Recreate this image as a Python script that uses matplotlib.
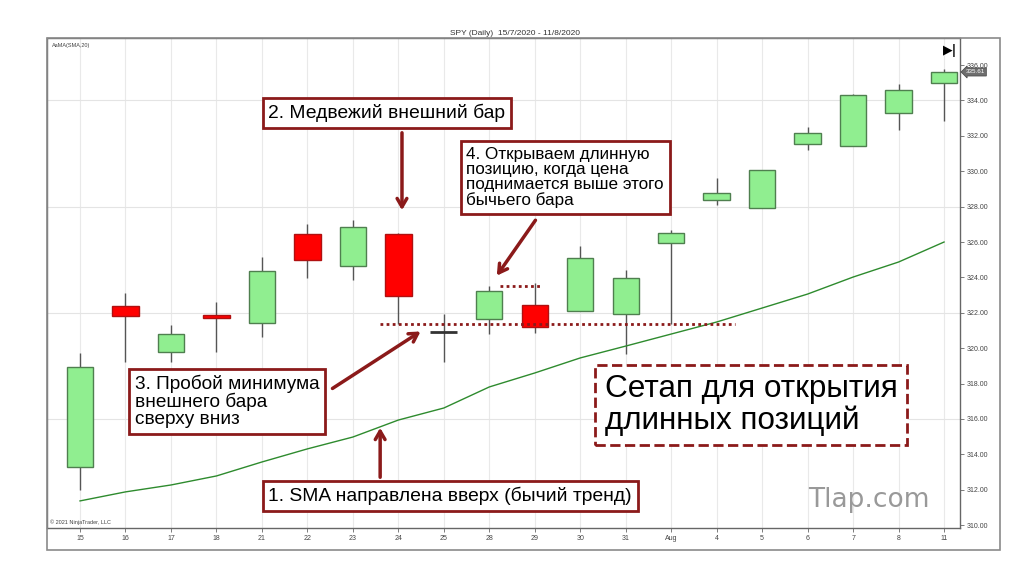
import numpy as np
import matplotlib.pyplot as plt
from matplotlib.patches import Rectangle

# daily SPY candles
days = ['15', '16', '17', '18', '21', '22', '23', '24', '25', '28',
        '29', '30', '31', 'Aug', '4', '5', '6', '7', '8', '11']
opens = [313.29, 322.40, 319.79, 321.89, 321.41, 326.45, 324.64, 326.45, 320.95, 321.65,
         322.44, 322.10, 321.93, 325.94, 328.37, 327.92, 331.54, 331.42, 333.29, 335.01]
closes = [318.94, 321.84, 320.80, 321.72, 324.36, 325.00, 326.85, 322.95, 320.92, 323.23,
          321.20, 325.10, 323.97, 326.51, 328.77, 330.07, 332.16, 334.30, 334.59, 335.61]
highs = [319.73, 323.10, 321.31, 322.63, 325.14, 327.02, 327.24, 326.50, 321.93, 323.51,
         323.68, 325.77, 324.42, 326.68, 329.62, 330.07, 332.50, 334.36, 334.93, 335.77]
lows = [312.00, 319.20, 319.20, 319.79, 320.65, 323.95, 323.85, 321.37, 319.22, 320.80,
        320.86, 322.10, 319.67, 321.37, 328.09, 327.92, 331.20, 331.42, 332.33, 332.84]
sma20 = [311.37, 311.88, 312.27, 312.78, 313.57, 314.31, 314.98, 315.94, 316.62, 317.81,
         318.60, 319.45, 320.12, 320.80, 321.48, 322.27, 323.06, 324.02, 324.87, 326.00]
price_ticks = np.arange(310, 337, 2)

RED = '#8b1a1a'

fig = plt.figure(figsize=(10.33, 5.79), dpi=100)
plt.rcParams['font.family'] = ['Liberation Sans', 'DejaVu Sans']

# outer frame of the chart panel
fig.patches.append(Rectangle((0.0455, 0.050), 0.9226, 0.884, transform=fig.transFigure,
                             fill=False, ec='#8a8a8a', lw=1.2))

ax = fig.add_axes([0.0455, 0.0881, 0.8838, 0.8463])
x = np.arange(len(days))

for i in x:
    up = closes[i] >= opens[i]
    lo, hi = min(opens[i], closes[i]), max(opens[i], closes[i])
    ax.vlines(i, lows[i], highs[i], color='#555555', lw=1, zorder=2)
    if hi - lo < 0.1:
        ax.hlines(closes[i], i - 0.3, i + 0.3, color='#333333' if i == 8 else '#b01010', lw=2, zorder=3)
        continue
    ax.bar(i, hi - lo, bottom=lo, width=0.58,
           color='#90ee90' if up else '#ff0000',
           edgecolor='#4f7f4f' if up else '#b01010', lw=1, zorder=3)

ax.plot(x, sma20, color='#2e8b2e', lw=1, zorder=2)

# dotted levels
ax.hlines(lows[7], 6.6, 14.4, color=RED, lw=2, linestyles=(0, (1, 1.2)), zorder=4)
ax.hlines(highs[9], 9.24, 10.14, color=RED, lw=2, linestyles=(0, (1, 1.2)), zorder=4)

ax.set_xlim(-0.726, 19.35)
ax.set_ylim(309.84, 337.53)
ax.set_xticks(x)
ax.set_xticklabels(days, fontsize=5, color='#444444')
ax.set_yticks(price_ticks)
ax.set_yticklabels([f'{v:.2f}' for v in price_ticks], fontsize=5, color='#444444')
ax.yaxis.tick_right()
ax.tick_params(axis='both', length=3, width=0.6, color='#666666', pad=2)
for s in ax.spines.values():
    s.set_color('#666666')
    s.set_linewidth(1)
ax.set_axisbelow(True)
for i in x:
    ax.axvline(i, color='#e9e9e9', lw=0.8, zorder=0)
for v in [316, 322, 328, 334]:
    ax.axhline(v, color='#e4e4e4', lw=0.8, zorder=0)

fig.text(0.4985, 0.943, 'SPY (Daily)  15/7/2020 - 11/8/2020', ha='center', va='center',
         fontsize=6, color='#333333')
ax.text(0.005, 0.984, 'AaMA(SMA,20)', transform=ax.transAxes, fontsize=4, color='#444444',
        va='center')
ax.text(0.003, 0.012, '© 2021 NinjaTrader, LLC', transform=ax.transAxes, fontsize=4,
        color='#444444', va='center')
ax.text(19.13, 336.85, '▶|', fontsize=9, fontweight='bold', ha='center', va='center',
        family='DejaVu Sans')
ax.annotate(f'{closes[-1]:.2f}', xy=(1.0, closes[-1]), xycoords=('axes fraction', 'data'),
            xytext=(4, 0), textcoords='offset points', fontsize=4.5, color='white',
            va='center', ha='left',
            bbox=dict(boxstyle='larrow,pad=0.25', fc='#6e6e6e', ec='#444444', lw=0.5),
            annotation_clip=False)

box = dict(boxstyle='square,pad=0.3', fc='white', ec=RED, lw=2)
ax.text(6.75, 333.29, '2. Медвежий внешний бар', fontsize=13.9, ha='center', va='center',
        bbox=box, zorder=6)
ax.text(10.67, 329.64, '4. Открываем длинную\nпозицию, когда цена\nподнимается выше этого\nбычьего бара',
        fontsize=12.3, ha='center', va='center', multialignment='left', linespacing=1.02,
        bbox=dict(boxstyle='square,pad=0.35', fc='white', ec=RED, lw=2), zorder=6)
ax.text(3.24, 316.99, '3. Пробой минимума\nвнешнего бара\nсверху вниз', fontsize=13.7,
        ha='center', va='center', multialignment='left', linespacing=0.98,
        bbox=box, zorder=6)
ax.text(8.14, 311.65, '1. SMA направлена вверх (бычий тренд)', fontsize=13.9, ha='center',
        va='center', bbox=box, zorder=6)
ax.text(14.76, 316.79, 'Сетап для открытия\nдлинных позиций', fontsize=22.7, ha='center',
        va='center', multialignment='left', linespacing=1.05, zorder=6,
        bbox=dict(boxstyle='square,pad=0.3', fc='white', ec=RED, lw=2, ls='--'))
ax.text(17.35, 311.42, 'Tlap.com', fontsize=19, color='#999999', ha='center', va='center',
        family='DejaVu Sans', zorder=6)

arrow = dict(arrowstyle='->,head_length=0.6,head_width=0.35', color=RED, lw=2.5)
ax.annotate('', xy=(7.08, 327.64), xytext=(7.08, 332.33), arrowprops=arrow, zorder=5)
ax.annotate('', xy=(9.13, 323.97), xytext=(10.05, 327.36), arrowprops=arrow, zorder=5)
ax.annotate('', xy=(7.54, 321.03), xytext=(5.5, 317.64), arrowprops=arrow, zorder=5)
ax.annotate('', xy=(6.6, 315.66), xytext=(6.6, 312.55), arrowprops=arrow, zorder=5)

fig.savefig('out.png', dpi=100)
